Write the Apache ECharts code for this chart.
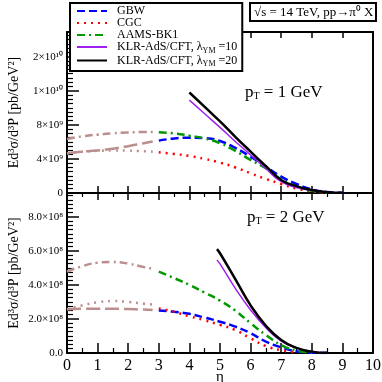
<!DOCTYPE html>
<html><head><meta charset="utf-8">
<script src="https://cdn.jsdelivr.net/npm/echarts@6/dist/echarts.min.js"></script>
<style>html,body{margin:0;padding:0;background:#fff}#c{width:382px;height:382px}</style>
</head><body><div id="c"></div>
<script>
// ---- data (top panel: units of 1e9 pb/GeV^2, bottom panel: units of 1e8) ----
const etaExt = [0, 0.5, 1, 1.5, 2, 2.5, 2.8];
// pT = 1 GeV
const gbwExt1  = [4.67, 4.85, 5.0, 5.2, 5.5, 5.85, 6.05];
const cgcExt1  = [4.65, 4.85, 4.95, 5.0, 4.98, 4.9, 4.85];
const aamsExt1 = [6.35, 6.65, 6.85, 7.0, 7.1, 7.15, 7.15];
const gbwEta1  = [3, 3.5, 4, 4.5, 5, 5.5, 6, 6.5, 7, 7.5, 8, 8.5, 9];
const gbw1     = [6.15, 6.4, 6.5, 6.45, 6.1, 5.3, 4.27, 3.1, 1.92, 1.06, 0.43, 0.12, 0.02];
const cgcEta1  = [3, 3.5, 4, 4.5, 5, 5.5, 6, 6.5, 7, 7.5, 8, 8.5];
const cgc1     = [4.78, 4.58, 4.35, 4.0, 3.57, 3.0, 2.31, 1.65, 1.06, 0.52, 0.2, 0.05];
const aamsEta1 = [3, 3.5, 4, 4.5, 5, 5.5, 6, 6.5, 7, 7.5, 8, 8.5];
const aams1    = [7.14, 7.0, 6.72, 6.4, 5.85, 4.95, 3.88, 2.9, 1.6, 0.75, 0.25, 0.05];
const klrEta1  = [4, 4.5, 5, 5.5, 6, 6.5, 7, 7.5, 8, 8.5, 9];
const klr10_1  = [10.9, 9.3, 7.7, 6.05, 4.47, 2.85, 1.33, 0.65, 0.3, 0.08, 0.01];
const klr20_1  = [11.8, 10.1, 8.4, 6.6, 4.86, 3.15, 1.53, 0.8, 0.35, 0.1, 0.02];
// pT = 2 GeV
const gbwExt2  = [2.57, 2.6, 2.6, 2.6, 2.58, 2.55, 2.53];
const cgcExt2  = [2.57, 2.8, 2.98, 3.05, 3.0, 2.9, 2.85];
const aamsExt2 = [4.78, 5.1, 5.3, 5.35, 5.25, 5.05, 4.95];
const gbwEta2  = [3, 3.5, 4, 4.5, 5, 5.5, 6, 6.5, 7, 7.5, 8, 8.5];
const gbw2     = [2.5, 2.42, 2.3, 2.08, 1.84, 1.55, 1.16, 0.67, 0.33, 0.1, 0.02, 0.0];
const cgcEta2  = [3, 3.5, 4, 4.5, 5, 5.5, 6, 6.5, 7, 7.5];
const cgc2     = [2.62, 2.42, 2.16, 1.92, 1.65, 1.35, 0.86, 0.41, 0.16, 0.04];
const aamsEta2 = [3, 3.5, 4, 4.5, 5, 5.5, 6, 6.5, 7, 7.5, 8];
const aams2    = [4.78, 4.4, 4.0, 3.55, 3.08, 2.49, 1.75, 1.06, 0.47, 0.15, 0.02];
const klrEta2  = [4.9, 5, 5.5, 6, 6.5, 7, 7.5, 8, 8.5];
const klr10_2  = [5.47, 5.24, 3.8, 2.53, 1.49, 0.7, 0.3, 0.08, 0.01];
const klr20_2  = [6.1, 5.86, 4.34, 2.8, 1.6, 0.76, 0.3, 0.08, 0.01];
// ticks
const xTicks = [0,1,2,3,4,5,6,7,8,9,10];
const yTicks1 = ['0', '4×10⁹', '8×10⁹', '1×10¹⁰', '2×10¹⁰'];
const yTicks2 = ['0.0', '2.0×10⁸', '4.0×10⁸', '6.0×10⁸', '8.0×10⁸'];
const names = ['GBW', 'CGC', 'AAMS-BK1', 'KLR-AdS/CFT, λYM =10', 'KLR-AdS/CFT, λYM =20'];

const F = '"Liberation Serif", "Times New Roman", serif';
const BROWN = '#bc8f8f', BLUE = '#0000ff', RED = '#ff0000', GREEN = '#009a00', PURPLE = '#a020f0';
const DASH = [8, 4], DOT = [2, 5], DASHDOT = [8, 4, 2, 4];
function pairs(xs, ys) { return xs.map((x, i) => [x, ys[i]]); }
function S(name, xs, ys, color, type, width, gi, z) {
  return { name: name, type: 'line', xAxisIndex: gi * 2, yAxisIndex: gi * 2, data: pairs(xs, ys),
    symbol: 'none', showSymbol: false, smooth: 0.5, z: z || 2,
    lineStyle: { color: color, type: type, width: width }, itemStyle: { color: color },
    emphasis: { disabled: true }, silent: true };
}
const series = [
  S('ext1', etaExt, gbwExt1, BROWN, [14, 5], 2.5, 0),
  S('ext2', etaExt, cgcExt1, BROWN, DOT, 2.5, 0),
  S('ext3', etaExt, aamsExt1, BROWN, DASHDOT, 2.5, 0),
  S(names[0], gbwEta1, gbw1, BLUE, DASH, 2.5, 0, 3),
  S(names[1], cgcEta1, cgc1, RED, DOT, 2.5, 0, 3),
  S(names[2], aamsEta1, aams1, GREEN, DASHDOT, 2.5, 0, 3),
  S(names[3], klrEta1, klr10_1, PURPLE, 'solid', 1.5, 0, 4),
  S(names[4], klrEta1, klr20_1, '#000', 'solid', 2.5, 0, 5),
  S('ext4', etaExt, gbwExt2, BROWN, [14, 5], 2.5, 1),
  S('ext5', etaExt, cgcExt2, BROWN, DOT, 2.5, 1),
  S('ext6', etaExt, aamsExt2, BROWN, DASHDOT, 2.5, 1),
  S(names[0], gbwEta2, gbw2, BLUE, DASH, 2.5, 1, 3),
  S(names[1], cgcEta2, cgc2, RED, DOT, 2.5, 1, 3),
  S(names[2], aamsEta2, aams2, GREEN, DASHDOT, 2.5, 1, 3),
  S(names[3], klrEta2, klr10_2, PURPLE, 'solid', 1.5, 1, 4),
  S(names[4], klrEta2, klr20_2, '#000', 'solid', 2.5, 1, 5)
];
const AL = { show: true, onZero: false, lineStyle: { color: '#000', width: 2 } };
function xAx(gi, pos, tickLen, minorLen, labels) {
  return { type: 'value', gridIndex: gi, position: pos, min: 0, max: 10, interval: 1,
    axisLine: AL, splitLine: { show: false },
    axisTick: { show: true, inside: true, length: tickLen, lineStyle: { color: '#000', width: 1.5 } },
    minorTick: { show: minorLen > 0, splitNumber: 2, length: minorLen, lineStyle: { color: '#000', width: 1.2 } },
    axisLabel: labels ? { show: true, fontFamily: F, fontSize: 16, color: '#000', margin: 5,
      formatter: v => (xTicks.indexOf(v) >= 0 ? String(v) : '') } : { show: false },
    name: labels ? 'η' : '', nameLocation: 'middle', nameGap: 17, nameMoveOverlap: false,
    nameTextStyle: { fontFamily: F, fontSize: 15, color: '#000', verticalAlign: 'top' } };
}
function yAx(gi, max, interval, labels) {
  return { type: 'value', gridIndex: gi, min: 0, max: max, interval: interval,
    axisLine: AL, splitLine: { show: false },
    axisTick: { show: true, inside: true, length: 12, lineStyle: { color: '#000', width: 1.5 } },
    minorTick: { show: true, splitNumber: 8, length: 6, lineStyle: { color: '#000', width: 1.2 } },
    axisLabel: { fontFamily: F, fontSize: 11, color: '#000', margin: 4, showMaxLabel: true,
      formatter: v => { const k = Math.round(v / interval); return Math.abs(v - k * interval) < 1e-6 && k < labels.length ? labels[k] : ''; } },
    name: 'Ed³σ/d³P [pb/GeV²]', nameLocation: 'middle', nameRotate: 90, nameGap: 46, nameMoveOverlap: false,
    nameTextStyle: { fontFamily: F, fontSize: 14, color: '#000' } };
}
function yRight(gi, max) {
  return { type: 'value', gridIndex: gi, position: 'right', min: 0, max: max,
    axisLine: AL, axisTick: { show: false }, axisLabel: { show: false }, splitLine: { show: false } };
}
const chart = echarts.init(document.getElementById('c'), null, { renderer: 'canvas' });
chart.setOption({
  animation: false,
  backgroundColor: '#fff',
  grid: [
    { left: 67, right: 9, top: 32, height: 161, containLabel: false, outerBoundsMode: 'none' },
    { left: 67, right: 9, top: 193, height: 160, containLabel: false, outerBoundsMode: 'none' }
  ],
  xAxis: [ xAx(0, 'bottom', 7, 0, false), xAx(0, 'top', 6, 0, false),
           xAx(1, 'bottom', 10, 5, true), xAx(1, 'top', 7, 4, false) ],
  yAxis: [ yAx(0, 18.9, 4, yTicks1), yRight(0, 18.9), yAx(1, 9.4, 2, yTicks2), yRight(1, 9.4) ],
  series: series,
  legend: {
    data: names, orient: 'vertical', left: 70, top: 3, itemWidth: 30, itemHeight: 10, itemGap: 0,
    padding: [2, 5, 3, 6], borderColor: '#000', borderWidth: 2, backgroundColor: '#fff', borderRadius: 0,
    selectedMode: false, z: 10,
    itemStyle: { color: 'rgba(0,0,0,0)', borderWidth: 0, opacity: 0 },
    textStyle: { fontFamily: F, fontSize: 12, lineHeight: 11, color: '#000', padding: [0, 0, 0, 5],
      rich: { s: { fontFamily: F, fontSize: 8, color: '#000', padding: [7, 0, 0, 0] } } },
    formatter: n => n.replace('λYM', 'λ{s|YM}')
  },
  title: {
    text: '√s = 14 TeV, pp→π⁰ X', left: 250, top: 3, padding: [3, 3, 2, 4],
    borderColor: '#000', borderWidth: 2, backgroundColor: '#fff',
    textStyle: { fontFamily: F, fontSize: 13, fontWeight: 'normal', color: '#000' }
  },
  graphic: [
    { type: 'text', left: 245, top: 84, z: 10, style: { text: 'p{s|T} = 1 GeV', fontFamily: F, fontSize: 17, fill: '#000',
      rich: { s: { fontFamily: F, fontSize: 10, fill: '#000', padding: [8, 0, 0, 0] } } } },
    { type: 'text', left: 247, top: 209, z: 10, style: { text: 'p{s|T} = 2 GeV', fontFamily: F, fontSize: 17, fill: '#000',
      rich: { s: { fontFamily: F, fontSize: 10, fill: '#000', padding: [8, 0, 0, 0] } } } }
  ]
});
</script></body></html>
